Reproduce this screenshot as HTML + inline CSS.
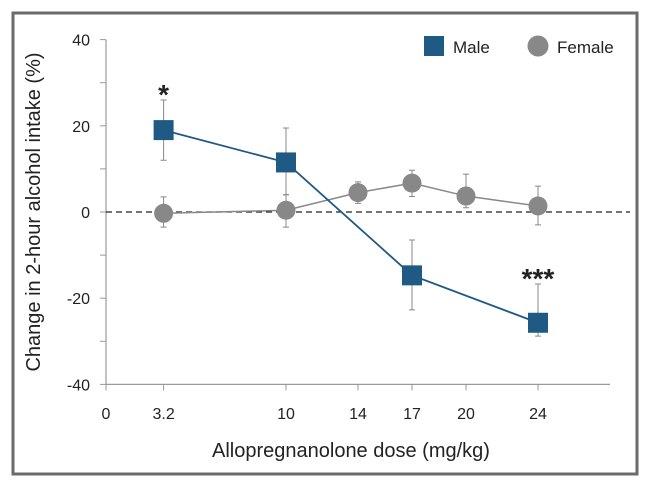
<!DOCTYPE html>
<html><head><meta charset="utf-8"><style>
body{margin:0;background:#fff;}
svg{display:block;font-family:"Liberation Sans",sans-serif;}
</style></head><body>
<svg width="650" height="488" viewBox="0 0 650 488">
<rect x="13" y="13" width="624" height="461" fill="#fff" stroke="#6b6b6b" stroke-width="3"/>
<g id="axes"></g>
<g id="marks"></g>
<text x="212" y="457" font-size="20" fill="#222">Allopregnanolone dose (mg/kg)</text>
<text transform="translate(40,212) rotate(-90)" text-anchor="middle" font-size="20" fill="#222">Change in 2-hour alcohol intake (%)</text>
<g>
<rect x="424" y="36" width="20" height="20" fill="#1f5a85"/>
<text x="453" y="53" font-size="17" fill="#222">Male</text>
<circle cx="538" cy="46" r="10.5" fill="#888"/>
<text x="557" y="53" font-size="17" fill="#222">Female</text>
</g>
</svg>
<script>
const xTicks=[0,3.2,10,14,17,20,24];
const yTicks=[40,20,0,-20,-40];
const doses=[3.2,10,17,24];
const maleMean=[19,11.5,-14.7,-25.7];
const maleLow=[12,4,-22.7,-28.8];
const maleHigh=[26,19.5,-6.5,-16.7];
const fDoses=[3.2,10,14,17,20,24];
const femaleMean=[-0.3,0.4,4.5,6.7,3.7,1.4];
const femaleLow=[-3.5,-3.5,2,3.6,1,-3];
const femaleHigh=[3.5,4,7,9.7,8.8,6];
const sig=[{x:3.2,v:26,t:"*"},{x:24,v:-16.7,t:"***"}];
const NS="http://www.w3.org/2000/svg";
const X=v=>106+v*18.0;
const Y=v=>212-v*4.31;
function mk(tag,attrs,parent){const e=document.createElementNS(NS,tag);for(const k in attrs)e.setAttribute(k,attrs[k]);parent.appendChild(e);return e;}
const ax=document.getElementById('axes'),mg=document.getElementById('marks');
let e;
e=mk('line',{x1:106,y1:Y(40),x2:106,y2:Y(-40),stroke:'#999','stroke-width':1.2},ax);

e=mk('line',{x1:106,y1:Y(-40),x2:610,y2:Y(-40),stroke:'#999','stroke-width':1.2},ax);

for(let v=-40;v<=40;v+=10){e=mk('line',{x1:100,y1:Y(v),x2:106,y2:Y(v),stroke:'#999'},ax);
}
yTicks.forEach(v=>{e=mk('text',{x:90,y:Y(v)+6,'text-anchor':'end','font-size':16,fill:'#222'},ax);e.textContent=v;
});
xTicks.forEach(v=>{e=mk('line',{x1:X(v),y1:Y(-40),x2:X(v),y2:Y(-40)+6,stroke:'#999'},ax);

e=mk('text',{x:X(v),y:419,'text-anchor':'middle','font-size':16,fill:'#222'},ax);e.textContent=v;
});
e=mk('line',{x1:106,y1:Y(0),x2:630,y2:Y(0),stroke:'#222','stroke-dasharray':'6,4','stroke-width':1.2},ax);

function errs(xs,lo,hi,name){xs.forEach((d,i)=>{const x=X(d);
e=mk('path',{d:`M${x},${Y(lo[i])}V${Y(hi[i])}M${x-3},${Y(lo[i])}H${x+3}M${x-3},${Y(hi[i])}H${x+3}`,stroke:'#888','stroke-width':1,fill:'none'},mg);
});}
errs(fDoses,femaleLow,femaleHigh,'female-error-bar');
e=mk('polyline',{points:fDoses.map((d,i)=>X(d)+','+Y(femaleMean[i])).join(' '),fill:'none',stroke:'#888','stroke-width':1.5},mg);

fDoses.forEach((d,i)=>{e=mk('circle',{cx:X(d),cy:Y(femaleMean[i]),r:9.5,fill:'#888'},mg);
});
errs(doses,maleLow,maleHigh,'male-error-bar');
e=mk('polyline',{points:doses.map((d,i)=>X(d)+','+Y(maleMean[i])).join(' '),fill:'none',stroke:'#1f5a85','stroke-width':1.8},mg);

doses.forEach((d,i)=>{e=mk('rect',{x:X(d)-10,y:Y(maleMean[i])-10,width:20,height:20,fill:'#1f5a85'},mg);
});
sig.forEach(s=>{e=mk('text',{x:X(s.x),y:Y(s.v)+4,'text-anchor':'middle','font-size':28,'font-weight':'bold',fill:'#222'},mg);e.textContent=s.t;
});
</script>
</body></html>
